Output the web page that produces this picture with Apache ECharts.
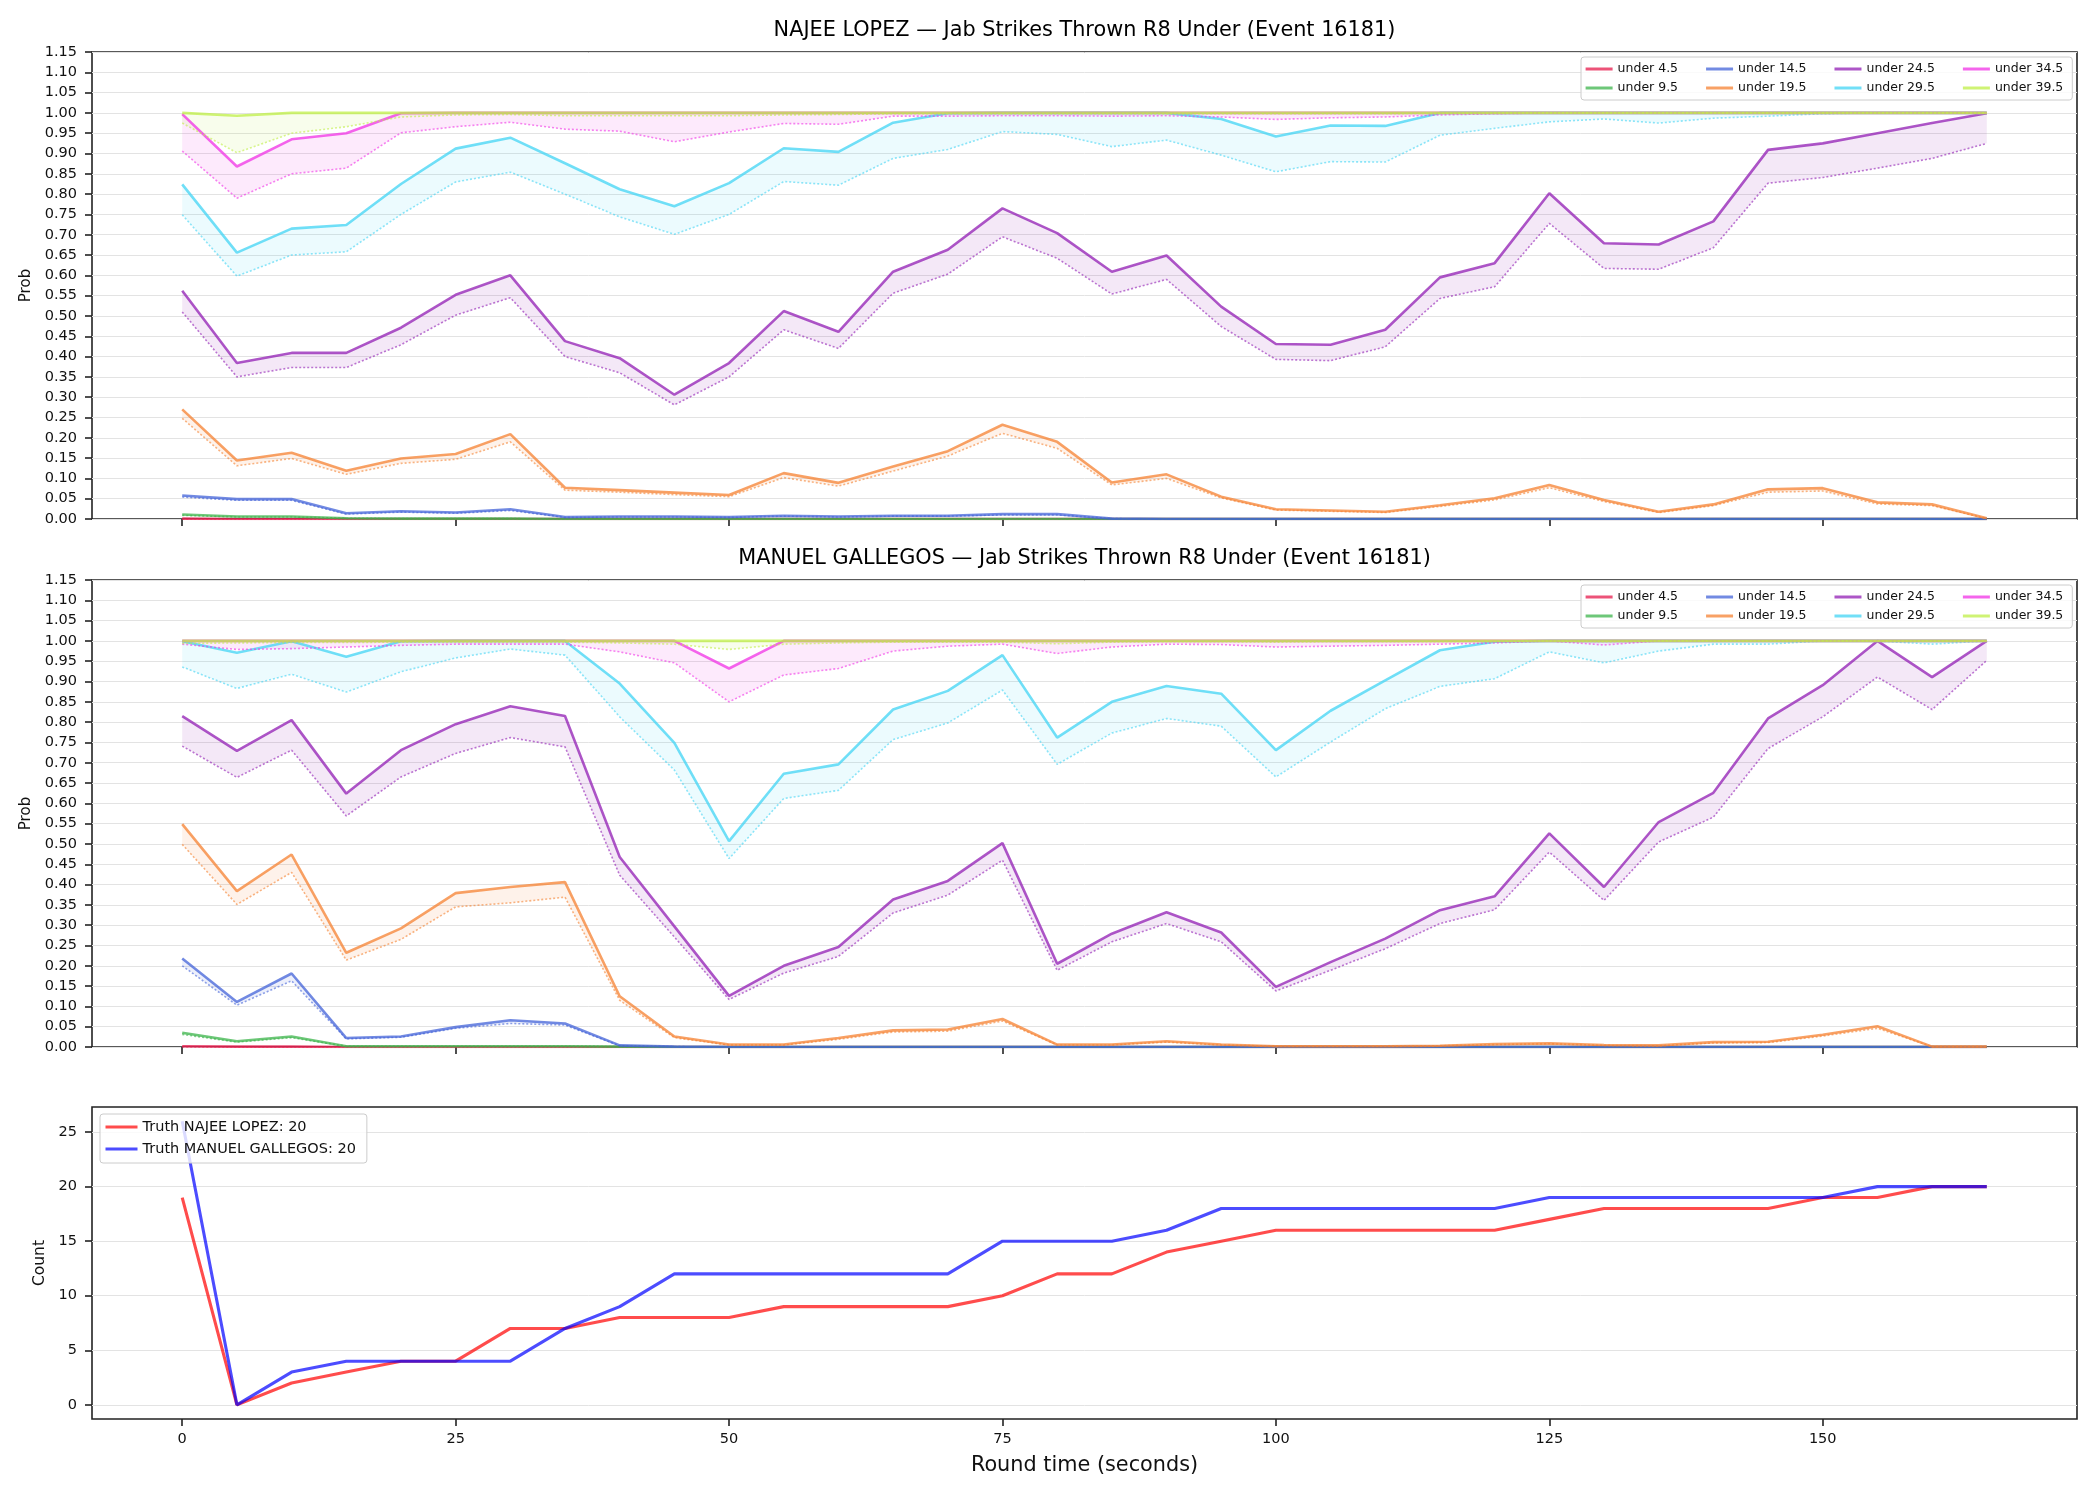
<!DOCTYPE html>
<html><head><meta charset="utf-8">
<script src="https://cdn.jsdelivr.net/npm/echarts@6/dist/echarts.min.js"></script>
<style>html,body{margin:0;padding:0;background:#fff}#c{width:2100px;height:1500px}</style>
</head><body><div id="c"></div>
<script>
// ---------------- DATA ----------------
const times = [0,5,10,15,20,25,30,35,40,45,50,55,60,65,70,75,80,85,90,95,100,105,110,115,120,125,130,135,140,145,150,155,160,165];
const thresholdNames = ['under 4.5','under 9.5','under 14.5','under 19.5','under 24.5','under 29.5','under 34.5','under 39.5'];
const xTicks = [0,25,50,75,100,125,150];
const countTicks = [0,5,10,15,20,25];
const titles = ['NAJEE LOPEZ — Jab Strikes Thrown R8 Under (Event 16181)', 'MANUEL GALLEGOS — Jab Strikes Thrown R8 Under (Event 16181)'];

// NAJEE LOPEZ: solid (upper) and dotted (lower) probabilities
const lopez4_5  = [0.001,0,0,0,0,0,0,0,0,0,0,0,0,0,0,0,0,0,0,0,0,0,0,0,0,0,0,0,0,0,0,0,0,0];
const lopez4_5L = [0,0,0,0,0,0,0,0,0,0,0,0,0,0,0,0,0,0,0,0,0,0,0,0,0,0,0,0,0,0,0,0,0,0];
const lopez9_5  = [0.011,0.006,0.006,0.002,0.001,0.001,0.001,0,0,0,0,0,0,0,0,0,0,0,0,0,0,0,0,0,0,0,0,0,0,0,0,0,0,0];
const lopez9_5L = [0.009,0.005,0.005,0.002,0.001,0.001,0.001,0,0,0,0,0,0,0,0,0,0,0,0,0,0,0,0,0,0,0,0,0,0,0,0,0,0,0];
const lopez14_5  = [0.058,0.049,0.049,0.014,0.019,0.016,0.024,0.005,0.006,0.006,0.005,0.008,0.006,0.008,0.008,0.012,0.012,0.001,0,0,0,0,0,0,0,0,0,0,0,0,0,0,0,0];
const lopez14_5L = [0.054,0.046,0.046,0.012,0.017,0.014,0.021,0.004,0.005,0.005,0.004,0.007,0.005,0.007,0.007,0.010,0.010,0.001,0,0,0,0,0,0,0,0,0,0,0,0,0,0,0,0];
const lopez19_5  = [0.270,0.144,0.163,0.119,0.149,0.160,0.209,0.077,0.071,0.065,0.059,0.113,0.089,0.129,0.167,0.232,0.190,0.090,0.110,0.055,0.024,0.021,0.018,0.034,0.051,0.084,0.047,0.018,0.036,0.073,0.076,0.041,0.036,0.002];
const lopez19_5L = [0.248,0.131,0.149,0.110,0.137,0.147,0.190,0.071,0.066,0.060,0.055,0.102,0.081,0.118,0.155,0.211,0.174,0.084,0.100,0.052,0.022,0.019,0.016,0.031,0.047,0.077,0.043,0.016,0.033,0.066,0.069,0.037,0.033,0.001];
const lopez24_5  = [0.562,0.384,0.409,0.409,0.471,0.552,0.600,0.438,0.396,0.306,0.384,0.512,0.461,0.609,0.663,0.765,0.704,0.609,0.649,0.523,0.431,0.429,0.466,0.595,0.630,0.802,0.679,0.676,0.733,0.909,0.925,0.950,0.975,0.999];
const lopez24_5L = [0.510,0.350,0.373,0.373,0.429,0.502,0.545,0.400,0.360,0.281,0.350,0.466,0.420,0.556,0.603,0.695,0.642,0.554,0.590,0.474,0.393,0.390,0.424,0.543,0.572,0.728,0.617,0.615,0.668,0.827,0.841,0.864,0.888,0.925];
const lopez29_5  = [0.824,0.656,0.715,0.724,0.825,0.912,0.939,0.876,0.812,0.770,0.827,0.913,0.904,0.976,0.999,1,1,1,1,0.985,0.942,0.969,0.968,1,1,1,1,1,1,1,1,1,1,1];
const lopez29_5L = [0.749,0.598,0.650,0.658,0.750,0.830,0.854,0.800,0.744,0.701,0.750,0.831,0.822,0.888,0.910,0.954,0.947,0.917,0.933,0.896,0.855,0.880,0.879,0.945,0.962,0.978,0.985,0.975,0.987,0.992,0.998,1,1,1];
const lopez34_5  = [0.997,0.868,0.935,0.950,0.999,1,1,1,1,1,1,1,1,1,1,1,1,1,1,1,1,1,1,1,1,1,1,1,1,1,1,1,1,1];
const lopez34_5L = [0.906,0.790,0.850,0.864,0.951,0.966,0.977,0.960,0.955,0.929,0.953,0.974,0.972,0.992,0.992,0.993,0.993,0.992,0.993,0.990,0.984,0.988,0.990,0.995,0.998,1,1,1,1,1,1,1,1,1];
const lopez39_5  = [1,0.993,1,1,1,1,1,1,1,1,1,1,1,1,1,1,1,1,1,1,1,1,1,1,1,1,1,1,1,1,1,1,1,1];
const lopez39_5L = [0.975,0.902,0.950,0.966,0.990,0.995,0.996,0.993,0.993,0.993,0.993,0.995,0.996,0.998,0.998,0.998,0.998,0.998,0.998,0.998,0.998,0.998,0.998,0.999,1,1,1,1,1,1,1,1,1,1];

// MANUEL GALLEGOS
const gallegos4_5  = [0.002,0.001,0.001,0,0,0,0,0,0,0,0,0,0,0,0,0,0,0,0,0,0,0,0,0,0,0,0,0,0,0,0,0,0,0];
const gallegos4_5L = [0,0,0,0,0,0,0,0,0,0,0,0,0,0,0,0,0,0,0,0,0,0,0,0,0,0,0,0,0,0,0,0,0,0];
const gallegos9_5  = [0.035,0.014,0.026,0.002,0.002,0.002,0.002,0.002,0.001,0,0,0,0,0,0,0,0,0,0,0,0,0,0,0,0,0,0,0,0,0,0,0,0,0];
const gallegos9_5L = [0.031,0.012,0.023,0.002,0.002,0.002,0.002,0.002,0.001,0,0,0,0,0,0,0,0,0,0,0,0,0,0,0,0,0,0,0,0,0,0,0,0,0];
const gallegos14_5  = [0.218,0.111,0.181,0.022,0.026,0.049,0.066,0.058,0.004,0.001,0,0,0,0,0,0,0,0,0,0,0,0,0,0,0,0,0,0,0,0,0,0,0,0];
const gallegos14_5L = [0.200,0.103,0.163,0.020,0.024,0.046,0.058,0.054,0.003,0.001,0,0,0,0,0,0,0,0,0,0,0,0,0,0,0,0,0,0,0,0,0,0,0,0];
const gallegos19_5  = [0.549,0.384,0.474,0.232,0.292,0.379,0.394,0.406,0.125,0.026,0.006,0.006,0.022,0.041,0.043,0.069,0.006,0.006,0.014,0.006,0.002,0.002,0.002,0.003,0.007,0.009,0.005,0.004,0.012,0.013,0.030,0.051,0.001,0.001];
const gallegos19_5L = [0.499,0.351,0.430,0.214,0.265,0.345,0.355,0.369,0.115,0.023,0.005,0.005,0.019,0.037,0.039,0.064,0.005,0.005,0.012,0.005,0.002,0.002,0.002,0.003,0.006,0.008,0.004,0.003,0.010,0.011,0.027,0.046,0.001,0.001];
const gallegos24_5  = [0.815,0.729,0.805,0.624,0.731,0.795,0.839,0.815,0.468,0.297,0.126,0.200,0.246,0.363,0.409,0.502,0.205,0.279,0.332,0.282,0.148,0.209,0.267,0.337,0.371,0.526,0.394,0.554,0.626,0.809,0.891,1.0,0.911,1.0];
const gallegos24_5L = [0.741,0.664,0.731,0.569,0.665,0.723,0.762,0.739,0.423,0.271,0.117,0.182,0.223,0.330,0.374,0.460,0.189,0.259,0.304,0.259,0.138,0.189,0.242,0.304,0.338,0.480,0.361,0.505,0.566,0.735,0.813,0.911,0.831,0.952];
const gallegos29_5  = [0.999,0.971,0.999,0.961,0.999,1,1,1,0.895,0.749,0.507,0.673,0.696,0.831,0.877,0.965,0.762,0.850,0.889,0.870,0.731,0.828,0.903,0.977,0.998,1,1,1,1,1,1,1,1,1];
const gallegos29_5L = [0.936,0.883,0.918,0.874,0.924,0.958,0.980,0.965,0.813,0.682,0.464,0.612,0.632,0.757,0.798,0.879,0.696,0.773,0.809,0.790,0.665,0.751,0.833,0.888,0.907,0.973,0.946,0.975,0.992,0.992,1,1,0.992,1];
const gallegos34_5  = [1,1,1,1,1,1,1,1,1,1,0.932,1,1,1,1,1,1,1,1,1,1,1,1,1,1,1,1,1,1,1,1,1,1,1];
const gallegos34_5L = [0.992,0.979,0.981,0.985,0.989,0.992,0.992,0.992,0.973,0.946,0.850,0.916,0.932,0.975,0.987,0.992,0.969,0.985,0.992,0.991,0.985,0.987,0.989,0.992,0.995,1,0.990,1,1,1,1,1,1,1];
const gallegos39_5  = [1,1,1,1,1,1,1,1,1,1,1,1,1,1,1,1,1,1,1,1,1,1,1,1,1,1,1,1,1,1,1,1,1,1];
const gallegos39_5L = [0.994,0.995,0.996,0.996,0.997,0.997,0.997,0.997,0.995,0.992,0.979,0.992,0.995,0.997,0.997,0.997,0.993,0.997,0.998,0.998,0.997,0.998,0.998,0.998,0.999,1,0.998,1,1,1,1,1,1,1];

// Truth counts
const lopezCountName = 'Truth NAJEE LOPEZ: 20';
const gallegosCountName = 'Truth MANUEL GALLEGOS: 20';
const lopezCount    = [19,0,2,3,4,4,7,7,8,8,8,9,9,9,9,10,12,12,14,15,16,16,16,16,16,17,18,18,18,18,19,19,20,20];
const gallegosCount = [26,0,3,4,4,4,4,7,9,12,12,12,12,12,12,15,15,15,16,18,18,18,18,18,18,19,19,19,19,19,19,20,20,20];

// ---------------- STYLE ----------------
const FONT = 'DejaVu Sans';
const palette = [[230,25,75],[60,180,75],[67,99,216],[245,130,49],[145,30,180],[66,212,244],[240,50,230],[191,239,69]];
const rgba = (c,a) => `rgba(${c[0]},${c[1]},${c[2]},${a})`;
const SOLID_ALPHA = 0.75;
const GRIDS = [
  {left:92, top:52,   width:1985, height:467},
  {left:92, top:580,  width:1985, height:467},
  {left:92, top:1107, width:1985, height:312}
];
const AXIS_COLOR = '#222';
const TEXT_COLOR = '#111';
const GRID_LINE = '#e3e3e3';

const pairs = vals => times.map((t,i) => [t, vals[i]]);

const panels = [
  {uppers:[lopez4_5,lopez9_5,lopez14_5,lopez19_5,lopez24_5,lopez29_5,lopez34_5,lopez39_5],
   lowers:[lopez4_5L,lopez9_5L,lopez14_5L,lopez19_5L,lopez24_5L,lopez29_5L,lopez34_5L,lopez39_5L]},
  {uppers:[gallegos4_5,gallegos9_5,gallegos14_5,gallegos19_5,gallegos24_5,gallegos29_5,gallegos34_5,gallegos39_5],
   lowers:[gallegos4_5L,gallegos9_5L,gallegos14_5L,gallegos19_5L,gallegos24_5L,gallegos29_5L,gallegos34_5L,gallegos39_5L]}
];

// band between lower and upper, drawn as one polygon through the axis scales
function bandSeries(gi, upper, lower, fill) {
  return {
    type:'custom', name:'band', xAxisIndex:gi, yAxisIndex:gi, silent:true, z:1,
    data: times.map((t,i) => [t, upper[i], lower[i]]),
    encode:{x:0, y:[1,2]},
    renderItem: function(params, api) {
      if (params.dataIndex !== 0) return null;
      const top = times.map((t,i) => api.coord([t, upper[i]]));
      const bot = times.map((t,i) => api.coord([t, lower[i]])).reverse();
      return {type:'polygon', shape:{points: top.concat(bot)}, style:{fill: fill, stroke:null}};
    }
  };
}

const series = [];
panels.forEach((p, gi) => {
  thresholdNames.forEach((nm, k) => {
    series.push(bandSeries(gi, p.uppers[k], p.lowers[k], rgba(palette[k], 0.1)));
  });
  thresholdNames.forEach((nm, k) => {
    const c = palette[k];
    series.push({type:'line', name:'lower_'+nm, xAxisIndex:gi, yAxisIndex:gi, data:pairs(p.lowers[k]),
      symbol:'none', silent:true, z:2,
      lineStyle:{color:rgba(c,0.6), width:1.6, type:[2,2]}, itemStyle:{color:rgba(c,0.6)}});
    series.push({type:'line', name:nm, xAxisIndex:gi, yAxisIndex:gi, data:pairs(p.uppers[k]),
      symbol:'none', silent:true, z:2,
      lineStyle:{color:rgba(c,SOLID_ALPHA), width:2.6}, itemStyle:{color:rgba(c,SOLID_ALPHA)}});
  });
});
series.push({type:'line', name:lopezCountName, xAxisIndex:2, yAxisIndex:2, data:pairs(lopezCount),
  symbol:'none', silent:true, z:2, lineStyle:{color:'rgba(255,0,0,0.7)', width:3.1}, itemStyle:{color:'rgba(255,0,0,0.7)'}});
series.push({type:'line', name:gallegosCountName, xAxisIndex:2, yAxisIndex:2, data:pairs(gallegosCount),
  symbol:'none', silent:true, z:2, lineStyle:{color:'rgba(0,0,255,0.7)', width:3.1}, itemStyle:{color:'rgba(0,0,255,0.7)'}});

const tickStyle = {length:7, lineStyle:{color:AXIS_COLOR, width:1.6}};
const xAxes = GRIDS.map((g, gi) => ({
  type:'value', gridIndex:gi, min:-8.25, max:173.25,
  axisLine:{show:false, onZero:false}, splitLine:{show:false},
  axisTick:Object.assign({show:true, customValues:xTicks}, tickStyle),
  axisLabel:{show: gi===2, customValues:xTicks, margin:13, fontSize:14.5, color:TEXT_COLOR, fontFamily:FONT},
  name: gi===2 ? 'Round time (seconds)' : '', nameLocation:'middle', nameGap:36,
  nameTextStyle:{fontSize:20.8, color:TEXT_COLOR, fontFamily:FONT}
}));
const yAxes = [0,1].map(gi => ({
  type:'value', gridIndex:gi, min:0, max:1.15, interval:0.05,
  axisLine:{show:false, onZero:false},
  axisTick:Object.assign({show:true}, tickStyle),
  axisLabel:{formatter:v=>v.toFixed(2), margin:15, fontSize:14.5, color:TEXT_COLOR, fontFamily:FONT},
  splitLine:{show:true, lineStyle:{color:GRID_LINE, width:1}},
  name:'Prob', nameLocation:'middle', nameGap:56,
  nameTextStyle:{fontSize:15, color:TEXT_COLOR, fontFamily:FONT}
}));
yAxes.push({
  type:'value', gridIndex:2, min:-1.3, max:27.3,
  axisLine:{show:false, onZero:false},
  axisTick:Object.assign({show:true, customValues:countTicks}, tickStyle),
  axisLabel:{customValues:countTicks, margin:15, fontSize:14.5, color:TEXT_COLOR, fontFamily:FONT},
  splitLine:{show:true, lineStyle:{color:GRID_LINE, width:1}},
  name:'Count', nameLocation:'middle', nameGap:42,
  nameTextStyle:{fontSize:15.5, color:TEXT_COLOR, fontFamily:FONT}
});

const legendRow1 = ['under 4.5','under 14.5','under 24.5','under 34.5'];
const legendRow2 = ['under 9.5','under 19.5','under 29.5','under 39.5'];
const legendText = {fontFamily:FONT, fontSize:12.5, color:TEXT_COLOR, lineHeight:15};
const legends = [];
[57, 585].forEach(top => {
  legends.push({data:legendRow1, left:1581, top:top, orient:'horizontal', icon:'rect', itemWidth:27, itemHeight:3,
    itemGap:28, padding:[4.5,9,23.5,4.6], borderColor:'#cccccc', borderWidth:1, borderRadius:3,
    backgroundColor:'rgba(255,255,255,0.8)', textStyle:legendText, selectedMode:false});
  legends.push({data:legendRow2, left:1581, top:top+23.5, orient:'horizontal', icon:'rect', itemWidth:27, itemHeight:3,
    itemGap:28, padding:[0,9,0,4.6], textStyle:legendText, selectedMode:false});
});
legends.push({data:[lopezCountName, gallegosCountName], left:100, top:1114, orient:'vertical', icon:'rect',
  itemWidth:32, itemHeight:3, itemGap:5, padding:[4.5,11,5.5,5.5], borderColor:'#cccccc', borderWidth:1, borderRadius:3,
  backgroundColor:'rgba(255,255,255,0.8)', textStyle:{fontFamily:FONT, fontSize:14.5, color:TEXT_COLOR, lineHeight:17}, selectedMode:false});

const option = {
  animation:false,
  backgroundColor:'#ffffff',
  title:[
    {text:titles[0], left:1084.5, top:19, textAlign:'center', padding:0,
     textStyle:{fontFamily:FONT, fontSize:20.8, fontWeight:'normal', color:'#000', lineHeight:24}},
    {text:titles[1], left:1084.5, top:546.5, textAlign:'center', padding:0,
     textStyle:{fontFamily:FONT, fontSize:20.8, fontWeight:'normal', color:'#000', lineHeight:24}}
  ],
  grid:GRIDS.map(g => Object.assign({show:true, borderColor:AXIS_COLOR, borderWidth:1.6, backgroundColor:'transparent', containLabel:false}, g)),
  xAxis:xAxes,
  yAxis:yAxes,
  legend:legends,
  series:series
};
const chart = echarts.init(document.getElementById('c'), null, {renderer:'canvas'});
chart.setOption(option);
</script>
</body></html>
